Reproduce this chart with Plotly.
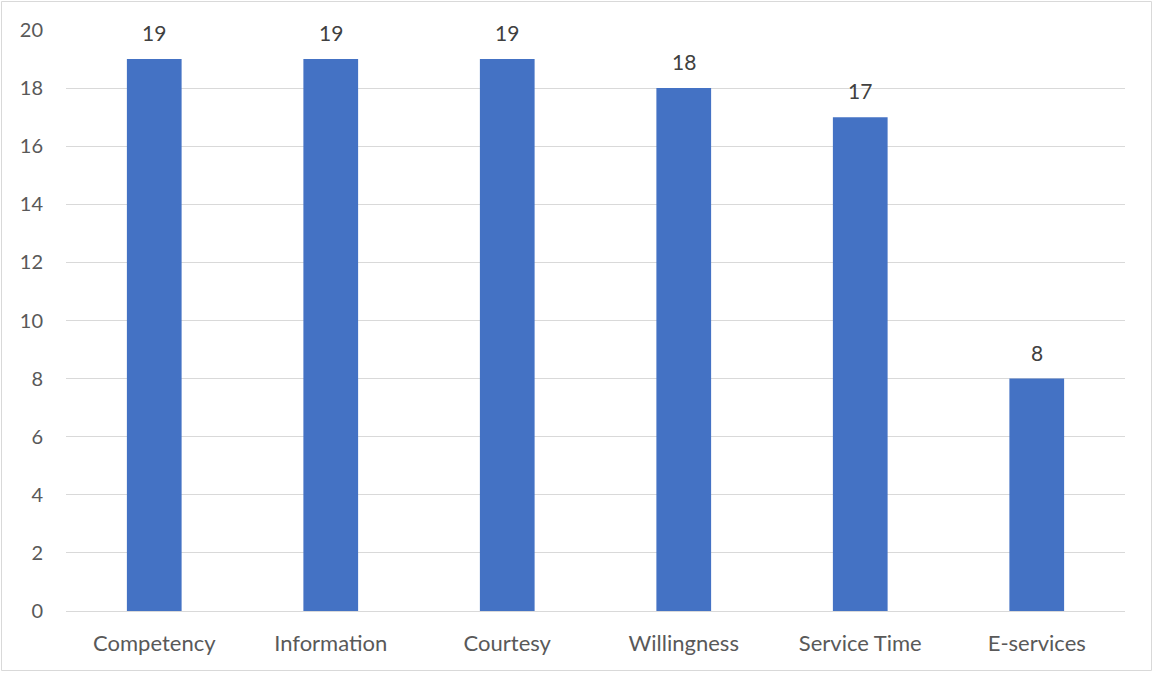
import plotly.graph_objects as go

categories = ["Competency", "Information", "Courtesy", "Willingness", "Service Time", "E-services"]
values = [19, 19, 19, 18, 17, 8]
y_ticks = [0, 2, 4, 6, 8, 10, 12, 14, 16, 18, 20]

W, H = 1154, 673
ML, MR, MT, MB = 66, 29, 30, 62
PW, PH = W - ML - MR, H - MT - MB

font_family = "Lato, 'Open Sans', sans-serif"
text_color = "#595959"

fig = go.Figure()
fig.add_trace(go.Bar(
    x=categories,
    y=values,
    marker=dict(color="#4472C4", line=dict(width=0)),
    width=0.31,
    hoverinfo="x+y",
))

# value labels above each bar
for c, v in zip(categories, values):
    fig.add_annotation(
        x=c, y=v, text=str(v), showarrow=False,
        yanchor="bottom", yshift=12,
        font=dict(family=font_family, size=21, color="#404040"),
    )

# thin outer frame around the chart
def px_to_paper_x(px):
    return (px - ML) / PW

def px_to_paper_y(py):
    return (H - MB - py) / PH

fig.add_shape(
    type="rect", xref="paper", yref="paper",
    x0=px_to_paper_x(1.5), x1=px_to_paper_x(W - 2.5),
    y0=px_to_paper_y(H - 2.5), y1=px_to_paper_y(1.5),
    line=dict(color="#D9D9D9", width=1), fillcolor="rgba(0,0,0,0)",
    layer="below",
)

fig.update_layout(
    width=W, height=H,
    margin=dict(l=ML, r=MR, t=MT, b=MB, pad=0),
    paper_bgcolor="white", plot_bgcolor="white",
    showlegend=False,
    font=dict(family=font_family, size=20, color=text_color),
    bargap=0.69,
)
fig.update_xaxes(
    type="category",
    showgrid=False, showline=True, linecolor="#D9D9D9", linewidth=1,
    ticks="", ticklabelstandoff=13,
    tickfont=dict(family=font_family, size=22, color=text_color),
    range=[-0.5, 5.5],
)
fig.update_yaxes(
    range=[0, 20], tickvals=y_ticks,
    showgrid=True, gridcolor="#D9D9D9", gridwidth=1,
    zeroline=False, showline=False,
    ticks="", ticklabelstandoff=22,
    tickfont=dict(family=font_family, size=20, color=text_color),
)

fig.write_html("out.html")
